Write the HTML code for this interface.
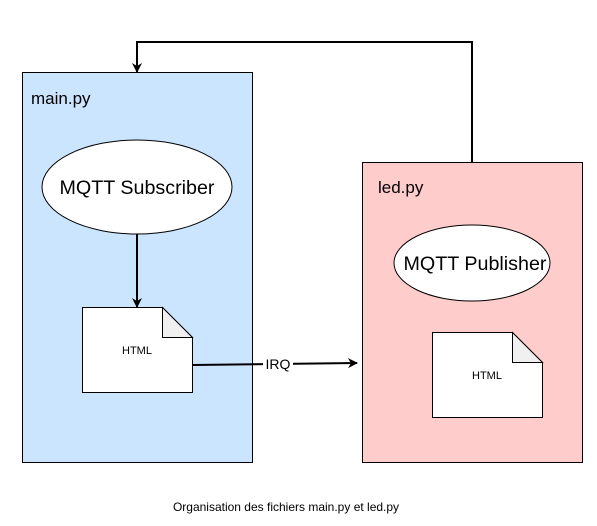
<!DOCTYPE html>
<html><head><style>body{margin:0;background:#fff}</style></head><body>
<svg width="597" height="521" xmlns="http://www.w3.org/2000/svg" font-family="Liberation Sans, sans-serif">
<defs><marker id="a" markerWidth="10" markerHeight="10" refX="9" refY="5" orient="auto" markerUnits="userSpaceOnUse"><path d="M0,0 L10,5 L0,10 L3,5 z" fill="#000"/></marker></defs>
<rect x="22.5" y="72.5" width="230" height="390" fill="#cce5ff" stroke="#000"/>
<rect x="362.5" y="162.5" width="220" height="300" fill="#ffcccc" stroke="#000"/>
<text x="31" y="104" font-size="17">main.py</text>
<text x="378" y="193" font-size="17">led.py</text>
<ellipse cx="137" cy="187" rx="95" ry="47" fill="#fff" stroke="#000"/>
<text x="137" y="194" font-size="19.7" text-anchor="middle">MQTT Subscriber</text>
<ellipse cx="472" cy="263" rx="78" ry="38" fill="#fff" stroke="#000"/>
<text x="475" y="270" font-size="19.7" text-anchor="middle">MQTT Publisher</text>
<path d="M82.5,307.5 H162.5 L192.5,337.5 V392.5 H82.5 Z" fill="#fff" stroke="#000"/>
<path d="M162.5,307.5 V337.5 H192.5 Z" fill="#f0f0f0" stroke="#000"/>
<text x="137" y="354" font-size="11" text-anchor="middle">HTML</text>
<path d="M432.5,332.5 H512.5 L542.5,362.5 V417.5 H432.5 Z" fill="#fff" stroke="#000"/>
<path d="M512.5,332.5 V362.5 H542.5 Z" fill="#f0f0f0" stroke="#000"/>
<text x="487" y="379" font-size="11" text-anchor="middle">HTML</text>
<line x1="137" y1="234" x2="137" y2="307" stroke="#000" stroke-width="2" marker-end="url(#a)"/>
<path d="M472,162 V42 H137 V72" fill="none" stroke="#000" stroke-width="2" marker-end="url(#a)"/>
<line x1="192" y1="365" x2="357" y2="363" stroke="#000" stroke-width="2" marker-end="url(#a)"/>
<rect x="263" y="356" width="30" height="16" fill="#fff"/>
<text x="278" y="369" font-size="14" text-anchor="middle">IRQ</text>
<text x="286" y="511" font-size="12" text-anchor="middle">Organisation des fichiers main.py et led.py</text>
</svg>
</body></html>
